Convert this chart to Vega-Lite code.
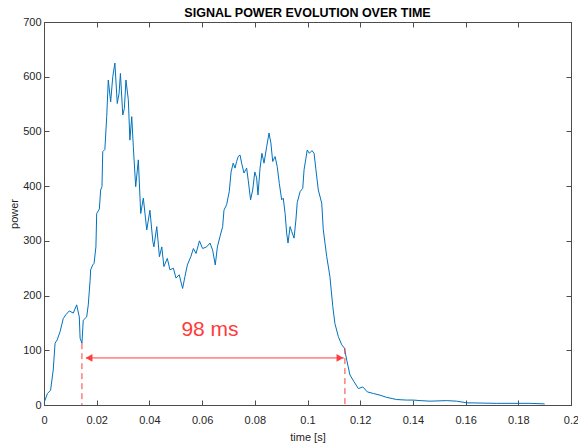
{
  "$schema": "https://vega.github.io/schema/vega-lite/v6.json",
  "autosize": "none",
  "width": 527,
  "height": 383,
  "padding": {"left": 44, "top": 22, "right": 7, "bottom": 40},
  "background": "white",
  "title": {"text": "SIGNAL POWER EVOLUTION OVER TIME", "font": "Liberation Sans", "fontSize": 12.5, "fontWeight": "bold", "color": "#000", "anchor": "middle", "offset": -3},
  "config": {
    "view": {"stroke": "#4d4d4d", "strokeWidth": 1},
    "axis": {"grid": false, "domainColor": "#4d4d4d", "tickColor": "#4d4d4d", "labelFont": "Liberation Sans", "labelFontSize": 11, "labelColor": "#262626", "titleFont": "Liberation Sans", "titleFontSize": 11, "titleFontWeight": "normal", "titleColor": "#262626"}
  },
  "datasets": {
    "signal": [
      {"t":0,"p":5},{"t":0.0004,"p":9},{"t":0.0013,"p":21},{"t":0.0025,"p":27},{"t":0.0035,"p":64},{"t":0.0042,"p":113},{"t":0.005,"p":119},{"t":0.0061,"p":134},{"t":0.0073,"p":158},{"t":0.0083,"p":165},{"t":0.0096,"p":172},{"t":0.0111,"p":168},{"t":0.0124,"p":183},{"t":0.0134,"p":161},{"t":0.0137,"p":122},{"t":0.0144,"p":113},{"t":0.0149,"p":155},{"t":0.0162,"p":161},{"t":0.0168,"p":183},{"t":0.0175,"p":228},{"t":0.0177,"p":247},{"t":0.0185,"p":256},{"t":0.019,"p":259},{"t":0.0197,"p":289},{"t":0.02,"p":350},{"t":0.021,"p":358},{"t":0.0215,"p":393},{"t":0.022,"p":399},{"t":0.0223,"p":463},{"t":0.0231,"p":467},{"t":0.0238,"p":527},{"t":0.0244,"p":594},{"t":0.0253,"p":554},{"t":0.0261,"p":600},{"t":0.0269,"p":625},{"t":0.0278,"p":551},{"t":0.0285,"p":570},{"t":0.029,"p":606},{"t":0.0299,"p":530},{"t":0.0305,"p":542},{"t":0.0311,"p":594},{"t":0.032,"p":558},{"t":0.0326,"p":484},{"t":0.0333,"p":527},{"t":0.0339,"p":472},{"t":0.0348,"p":399},{"t":0.0358,"p":448},{"t":0.0367,"p":350},{"t":0.0377,"p":378},{"t":0.039,"p":320},{"t":0.0402,"p":356},{"t":0.0413,"p":299},{"t":0.0417,"p":289},{"t":0.0428,"p":326},{"t":0.0438,"p":271},{"t":0.0447,"p":289},{"t":0.0455,"p":253},{"t":0.0468,"p":268},{"t":0.0478,"p":247},{"t":0.0491,"p":250},{"t":0.0501,"p":232},{"t":0.0513,"p":238},{"t":0.0526,"p":213},{"t":0.0535,"p":235},{"t":0.0544,"p":256},{"t":0.0557,"p":271},{"t":0.0567,"p":286},{"t":0.0577,"p":277},{"t":0.059,"p":300},{"t":0.0602,"p":286},{"t":0.0617,"p":289},{"t":0.063,"p":296},{"t":0.064,"p":283},{"t":0.065,"p":256},{"t":0.0658,"p":289},{"t":0.0668,"p":308},{"t":0.0678,"p":326},{"t":0.0683,"p":356},{"t":0.0693,"p":366},{"t":0.0703,"p":390},{"t":0.071,"p":426},{"t":0.0718,"p":442},{"t":0.0725,"p":433},{"t":0.0731,"p":445},{"t":0.0737,"p":454},{"t":0.0744,"p":457},{"t":0.075,"p":442},{"t":0.0759,"p":424},{"t":0.0769,"p":433},{"t":0.0775,"p":411},{"t":0.0784,"p":375},{"t":0.0792,"p":393},{"t":0.08,"p":426},{"t":0.0807,"p":415},{"t":0.0812,"p":384},{"t":0.082,"p":433},{"t":0.0827,"p":460},{"t":0.0835,"p":442},{"t":0.0845,"p":472},{"t":0.0854,"p":497},{"t":0.0861,"p":479},{"t":0.0868,"p":445},{"t":0.0877,"p":454},{"t":0.0885,"p":436},{"t":0.0893,"p":405},{"t":0.0902,"p":375},{"t":0.0908,"p":378},{"t":0.0915,"p":350},{"t":0.0921,"p":314},{"t":0.0926,"p":296},{"t":0.0934,"p":326},{"t":0.094,"p":317},{"t":0.0949,"p":305},{"t":0.0956,"p":338},{"t":0.0961,"p":370},{"t":0.0972,"p":390},{"t":0.0982,"p":396},{"t":0.0987,"p":430},{"t":0.0994,"p":451},{"t":0.0999,"p":466},{"t":0.1007,"p":460},{"t":0.1017,"p":465},{"t":0.1025,"p":460},{"t":0.1032,"p":430},{"t":0.1041,"p":393},{"t":0.1054,"p":369},{"t":0.106,"p":320},{"t":0.1073,"p":271},{"t":0.1085,"p":235},{"t":0.1096,"p":180},{"t":0.1104,"p":149},{"t":0.1117,"p":125},{"t":0.113,"p":110},{"t":0.114,"p":104},{"t":0.1149,"p":82},{"t":0.1161,"p":55},{"t":0.1176,"p":43},{"t":0.1193,"p":30},{"t":0.121,"p":33},{"t":0.1227,"p":24},{"t":0.125,"p":21},{"t":0.1275,"p":18},{"t":0.13,"p":14},{"t":0.1338,"p":10},{"t":0.1376,"p":9},{"t":0.1402,"p":9},{"t":0.1427,"p":8},{"t":0.1465,"p":7},{"t":0.1528,"p":8},{"t":0.1566,"p":7},{"t":0.1604,"p":4},{"t":0.1718,"p":3},{"t":0.1844,"p":3},{"t":0.19,"p":2}
    ],
    "arrow": [{"t": 0.0159, "t2": 0.1138, "p": 86}],
    "markers": [{"t": 0.0144, "p": 113}, {"t": 0.1142, "p": 104}],
    "heads": [{"t": 0.0171, "p": 86, "dir": "left"}, {"t": 0.1123, "p": 86, "dir": "right"}],
    "label": [{"t": 0.063, "p": 137, "text": "98 ms"}]
  },
  "resolve": {"axis": {"x": "independent", "y": "independent"}},
  "layer": [
    {
      "data": {"name": "signal"},
      "mark": {"type": "line", "color": "#0072BD", "strokeWidth": 1, "clip": true},
      "encoding": {
        "x": {"field": "t", "type": "quantitative", "scale": {"domain": [0, 0.2], "nice": false, "zero": false},
          "axis": {"orient": "bottom", "title": "time [s]", "values": [0,0.02,0.04,0.06,0.08,0.1,0.12,0.14,0.16,0.18,0.2], "format": ".2~f", "tickSize": -5, "labelPadding": 14, "titlePadding": 6, "labelFlush": false}},
        "y": {"field": "p", "type": "quantitative", "scale": {"domain": [0, 700], "nice": false},
          "axis": {"orient": "left", "title": "power", "values": [0,100,200,300,400,500,600,700], "tickSize": -5, "labelPadding": 8, "titleX": -25, "labelFlush": false}}
      }
    },
    {
      "data": {"name": "signal"},
      "mark": {"type": "line", "opacity": 0},
      "encoding": {
        "x": {"field": "t", "type": "quantitative", "axis": {"orient": "top", "title": null, "labels": false, "values": [0,0.02,0.04,0.06,0.08,0.1,0.12,0.14,0.16,0.18,0.2], "tickSize": -5}},
        "y": {"field": "p", "type": "quantitative", "axis": {"orient": "right", "title": null, "labels": false, "values": [0,100,200,300,400,500,600,700], "tickSize": -5}}
      }
    },
    {
      "data": {"name": "arrow"},
      "mark": {"type": "rule", "color": "#ff3b3b", "strokeWidth": 1},
      "encoding": {
        "x": {"field": "t", "type": "quantitative", "axis": null},
        "x2": {"field": "t2"},
        "y": {"field": "p", "type": "quantitative", "axis": null}
      }
    },
    {
      "data": {"name": "markers"},
      "mark": {"type": "rule", "color": "#ff3b3b", "strokeWidth": 1, "strokeDash": [6, 4]},
      "encoding": {
        "x": {"field": "t", "type": "quantitative", "axis": null},
        "y": {"field": "p", "type": "quantitative", "axis": null},
        "y2": {"datum": 0}
      }
    },
    {
      "data": {"name": "heads"},
      "mark": {"type": "point", "filled": true, "color": "#ff3b3b", "opacity": 1, "size": 60},
      "encoding": {
        "x": {"field": "t", "type": "quantitative", "axis": null},
        "y": {"field": "p", "type": "quantitative", "axis": null},
        "shape": {"field": "dir", "type": "nominal", "scale": {"domain": ["left", "right"], "range": ["triangle-left", "triangle-right"]}, "legend": null}
      }
    },
    {
      "data": {"name": "label"},
      "mark": {"type": "text", "color": "#ff3b3b", "font": "Liberation Sans", "fontSize": 21, "align": "center", "baseline": "middle"},
      "encoding": {
        "x": {"field": "t", "type": "quantitative", "axis": null},
        "y": {"field": "p", "type": "quantitative", "axis": null},
        "text": {"field": "text"}
      }
    }
  ]
}
